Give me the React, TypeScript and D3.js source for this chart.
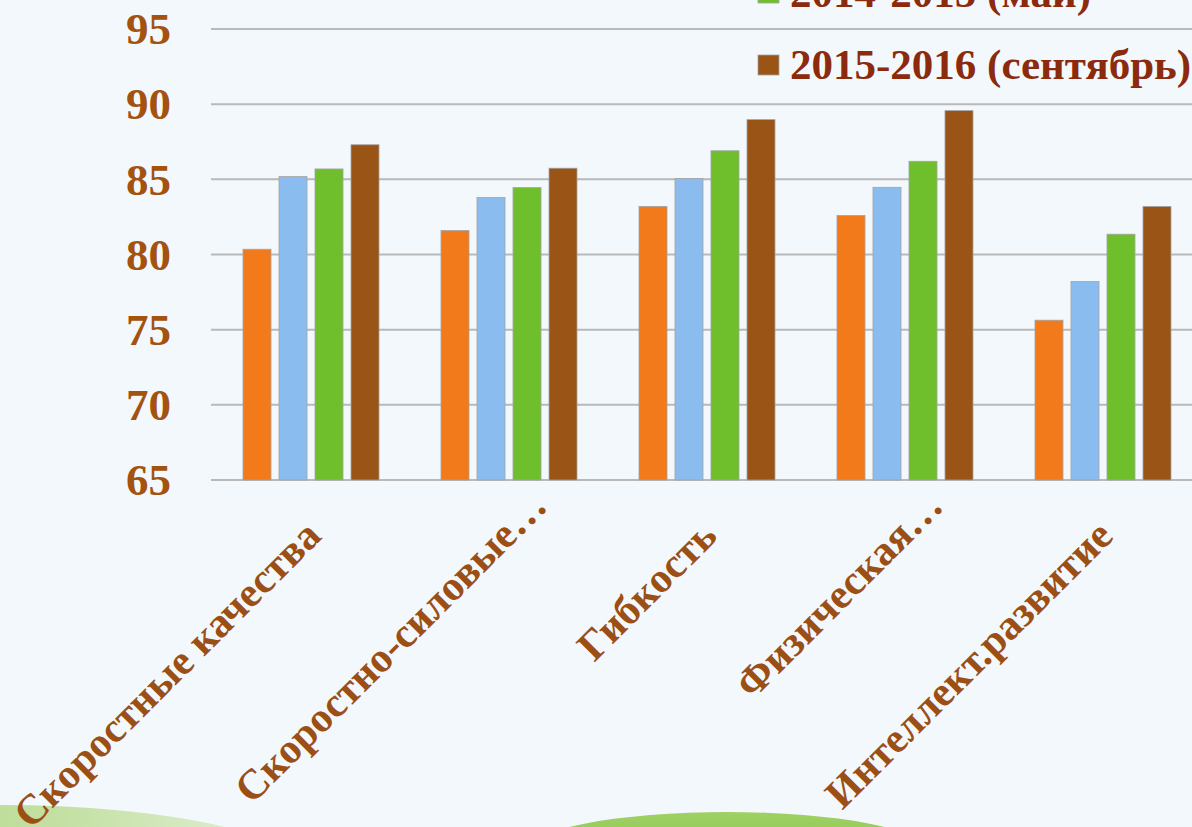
import React, { useEffect } from "react";
import * as d3 from "d3";

const categories = [
  "Скоростные качества",
  "Скоростно-силовые…",
  "Гибкость",
  "Физическая…",
  "Интеллект.развитие",
];

const seriesNames = [
  "2013-2014 (май)",
  "2014-2015 (сентябрь)",
  "2014-2015 (май)",
  "2015-2016 (сентябрь)",
];

const seriesColors = ["#f27a1b", "#8bbcef", "#6ebf2b", "#9a5416"];

// values[series][category]
const values = [
  [80.35, 81.6, 83.2, 82.6, 75.63],
  [85.18, 83.8, 85.05, 84.47, 78.2],
  [85.69, 84.45, 86.9, 86.2, 81.35],
  [87.3, 85.74, 88.97, 89.57, 83.2],
];

const yTicks = [65, 70, 75, 80, 85, 90, 95];

const W = 1192;
const H = 827;
const FONT = "'Liberation Serif', 'Times New Roman', serif";

export default function App() {
  useEffect(() => {
    document.body.style.margin = "0";
  }, []);

  const x0 = d3
    .scaleBand<string>()
    .domain(categories)
    .range([212, 1202])
    .paddingInner(0.3131)
    .paddingOuter(0.1566);

  const x1 = d3
    .scaleBand<string>()
    .domain(seriesNames)
    .range([0, x0.bandwidth()])
    .paddingInner(0.222)
    .paddingOuter(0);

  const y = d3.scaleLinear().domain([65, 95]).range([480, 29]);

  return (
    <svg width={W} height={H} style={{ display: "block" }}>
      <defs>
        <linearGradient id="hillL" x1="0" y1="0" x2="1" y2="0">
          <stop offset="0" stopColor="#a9d47c" />
          <stop offset="0.6" stopColor="#c3e0a2" />
          <stop offset="1" stopColor="#e6f1dc" />
        </linearGradient>
        <linearGradient id="hillC" x1="0" y1="0" x2="0" y2="1">
          <stop offset="0" stopColor="#9fd064" />
          <stop offset="1" stopColor="#7cbd3e" />
        </linearGradient>
      </defs>
      <rect width={W} height={H} fill="#f3f8fc" />
      <ellipse cx={0} cy={870} rx={300} ry={65} fill="url(#hillL)" />
      <ellipse cx={727} cy={851} rx={200} ry={39} fill="url(#hillC)" />

      {yTicks.map((t) => (
        <g key={t}>
          <line
            x1={211}
            x2={W}
            y1={y(t)}
            y2={y(t)}
            stroke="#b9b9b9"
            strokeWidth={2}
          />
          <text
            x={171}
            y={y(t)}
            dy="0.34em"
            textAnchor="end"
            fontFamily={FONT}
            fontWeight="bold"
            fontSize={45}
            fill="#a3520f"
          >
            {t}
          </text>
        </g>
      ))}

      {categories.map((c, ci) => (
        <g key={c} transform={`translate(${x0(c)},0)`}>
          {seriesNames.map((s, si) => (
            <rect
              key={s}
              x={x1(s)}
              y={y(values[si][ci])}
              width={x1.bandwidth()}
              height={480 - y(values[si][ci])}
              fill={seriesColors[si]}
              stroke="#a3a3a3"
              strokeWidth={0.8}
            />
          ))}
        </g>
      ))}

      {categories.map((c) => {
        const mid = (x0(c) ?? 0) + x0.bandwidth() / 2;
        // truncated labels sit higher along the diagonal
        const cut = c.endsWith("…");
        const lx = mid + (cut ? 40 : 12);
        const ly = cut ? 508 : 538;
        return (
          <text
            key={c}
            transform={`translate(${lx},${ly}) rotate(-45)`}
            textAnchor="end"
            fontFamily={FONT}
            fontWeight="bold"
            fontSize={42}
            fill="#9c4f14"
          >
            {c}
          </text>
        );
      })}

      {seriesNames.map((s, si) => {
        const ly = 75 - (seriesNames.length - 1 - si) * 72;
        return (
          <g key={s} transform={`translate(758,${ly})`}>
            <rect
              x={0}
              y={-20}
              width={21}
              height={20}
              fill={seriesColors[si]}
              stroke="#a3a3a3"
              strokeWidth={0.8}
            />
            <text
              x={32}
              y={4}
              fontFamily={FONT}
              fontWeight="bold"
              fontSize={43}
              fill="#8b2a0c"
            >
              {s}
            </text>
          </g>
        );
      })}
    </svg>
  );
}
